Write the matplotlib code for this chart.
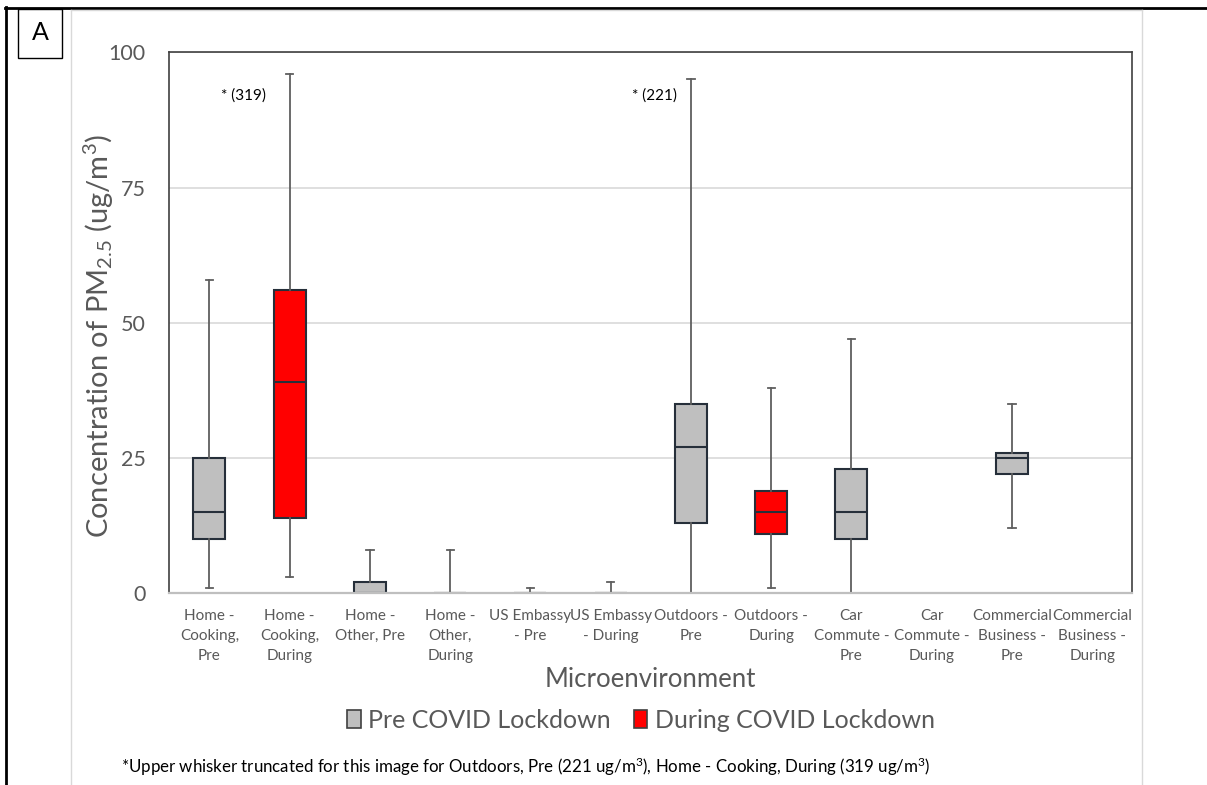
import matplotlib
matplotlib.use('Agg')
import matplotlib.pyplot as plt
from matplotlib.patches import Patch, Rectangle
from matplotlib.lines import Line2D
import numpy as np

plt.rcParams['font.family'] = ['Lato', 'DejaVu Sans']
plt.rcParams['mathtext.fontset'] = 'custom'
plt.rcParams['mathtext.rm'] = 'Lato'
plt.rcParams['mathtext.it'] = 'Lato:italic'

# PM2.5 box statistics per microenvironment (ug/m3), nan = no data
categories = ["Home -\nCooking,\nPre", "Home -\nCooking,\nDuring", "Home -\nOther, Pre",
              "Home -\nOther,\nDuring", "US Embassy\n- Pre", "US Embassy\n- During",
              "Outdoors -\nPre", "Outdoors -\nDuring", "Car\nCommute -\nPre",
              "Car\nCommute -\nDuring", "Commercial\nBusiness -\nPre",
              "Commercial\nBusiness -\nDuring"]
period = ["Pre", "During", "Pre", "During", "Pre", "During",
          "Pre", "During", "Pre", "During", "Pre", "During"]
whisker_low = [1, 3, 0, 0, 0, 0, 0, 1, 0, np.nan, 12, np.nan]
q1 = [10, 14, 0, 0, 0, 0, 13, 11, 10, np.nan, 22, np.nan]
median = [15, 39, 0, 0, 0, 0, 27, 15, 15, np.nan, 25, np.nan]
q3 = [25, 56, 2, 0, 0, 0, 35, 19, 23, np.nan, 26, np.nan]
whisker_high = [58, 96, 8, 8, 1, 2, 95, 38, 47, np.nan, 35, np.nan]  # two truncated

period_colors = {"Pre": "#bfbfbf", "During": "#ff0000"}
legend_names = {"Pre": "Pre COVID Lockdown", "During": "During COVID Lockdown"}

W, H = 1207, 785
fig = plt.figure(figsize=(W / 100, H / 100), dpi=100)
ax = fig.add_axes([169.3 / W, 1 - 593.3 / H, 963 / W, 541 / H])

stats = []
positions = []
fills = []
for i in range(len(categories)):
    if np.isnan(median[i]):
        continue
    stats.append(dict(med=median[i], q1=q1[i], q3=q3[i],
                      whislo=whisker_low[i], whishi=whisker_high[i], fliers=[]))
    positions.append(i)
    fills.append(period_colors[period[i]])

edge = "#262f3a"
wcol = "#5f5f5f"
bp = ax.bxp(stats, positions=positions, widths=0.4, patch_artist=True,
            showfliers=False, capwidths=0.09,
            boxprops=dict(edgecolor=edge, linewidth=1.5),
            medianprops=dict(color=edge, linewidth=1.5),
            whiskerprops=dict(color=wcol, linewidth=1.3),
            capprops=dict(color=wcol, linewidth=1.3))
for patch, c in zip(bp['boxes'], fills):
    patch.set_facecolor(c)

ax.set_xlim(-0.5, len(categories) - 0.5)
ax.set_ylim(0, 100)
ax.set_yticks([0, 25, 50, 75, 100])
ax.set_xticks(range(len(categories)))
ax.set_xticklabels(categories, fontsize=11, color="#595959", linespacing=1.55)
ax.tick_params(axis='both', length=0)
ax.tick_params(axis='x', pad=11)
ax.tick_params(axis='y', labelsize=15.5, labelcolor="#595959", pad=17)
ax.grid(axis='y', color="#d9d9d9", linewidth=1.2)
ax.set_axisbelow(True)
for s in ['left', 'top', 'right']:
    ax.spines[s].set_color("#404040")
    ax.spines[s].set_linewidth(1.2)
ax.spines['bottom'].set_color("#bfbfbf")
ax.spines['bottom'].set_linewidth(1.6)
ax.spines['bottom'].set_zorder(5)

ax.set_ylabel("Concentration of PM$_{2.5}$ (ug/m$^3$)", fontsize=21, color="#595959")
ax.yaxis.set_label_coords(-0.055, 0.475)
ax.set_xlabel("Microenvironment", fontsize=18.5, color="#595959", labelpad=3)

# notes for the truncated upper whiskers
ax.text(0.43, 92, "* (319)", fontsize=11, ha='center', va='center')
ax.text(5.55, 92, "* (221)", fontsize=11, ha='center', va='center')

handles = [Patch(facecolor=period_colors[p], edgecolor="#404040", linewidth=1.2,
                 label=legend_names[p]) for p in ["Pre", "During"]]
fig.legend(handles=handles, loc='center', bbox_to_anchor=(641 / W, 1 - 720 / H),
           ncol=2, frameon=False, fontsize=18, labelcolor="#595959",
           handlelength=0.55, handleheight=0.75, handletextpad=0.3, columnspacing=0.9)

fig.text(121 / W, 1 - 767 / H,
         "*Upper whisker truncated for this image for Outdoors, Pre (221 ug/m$^3$), "
         "Home - Cooking, During (319 ug/m$^3$)", fontsize=12.2, va='center')

# outer frame, chart area border and panel tag
fig.add_artist(Line2D([5 / W, 1], [1 - 7.5 / H] * 2, color='black', linewidth=2))
fig.add_artist(Line2D([6 / W] * 2, [0, 1 - 7 / H], color='black', linewidth=2))
fig.add_artist(Line2D([71 / W, 1142 / W], [1 - 9.5 / H] * 2, color='#d9d9d9', linewidth=1))
fig.add_artist(Line2D([71 / W] * 2, [0, 1 - 9.5 / H], color='#d9d9d9', linewidth=1))
fig.add_artist(Line2D([1142 / W] * 2, [0, 1 - 9.5 / H], color='#d9d9d9', linewidth=1))
fig.add_artist(Rectangle((18 / W, 1 - 58 / H), 44 / W, 49 / H, transform=fig.transFigure,
                         facecolor='white', edgecolor='black', linewidth=1))
fig.text(40 / W, 1 - 33 / H, "A", fontsize=18, ha='center', va='center')

fig.savefig("out.png", dpi=100)
